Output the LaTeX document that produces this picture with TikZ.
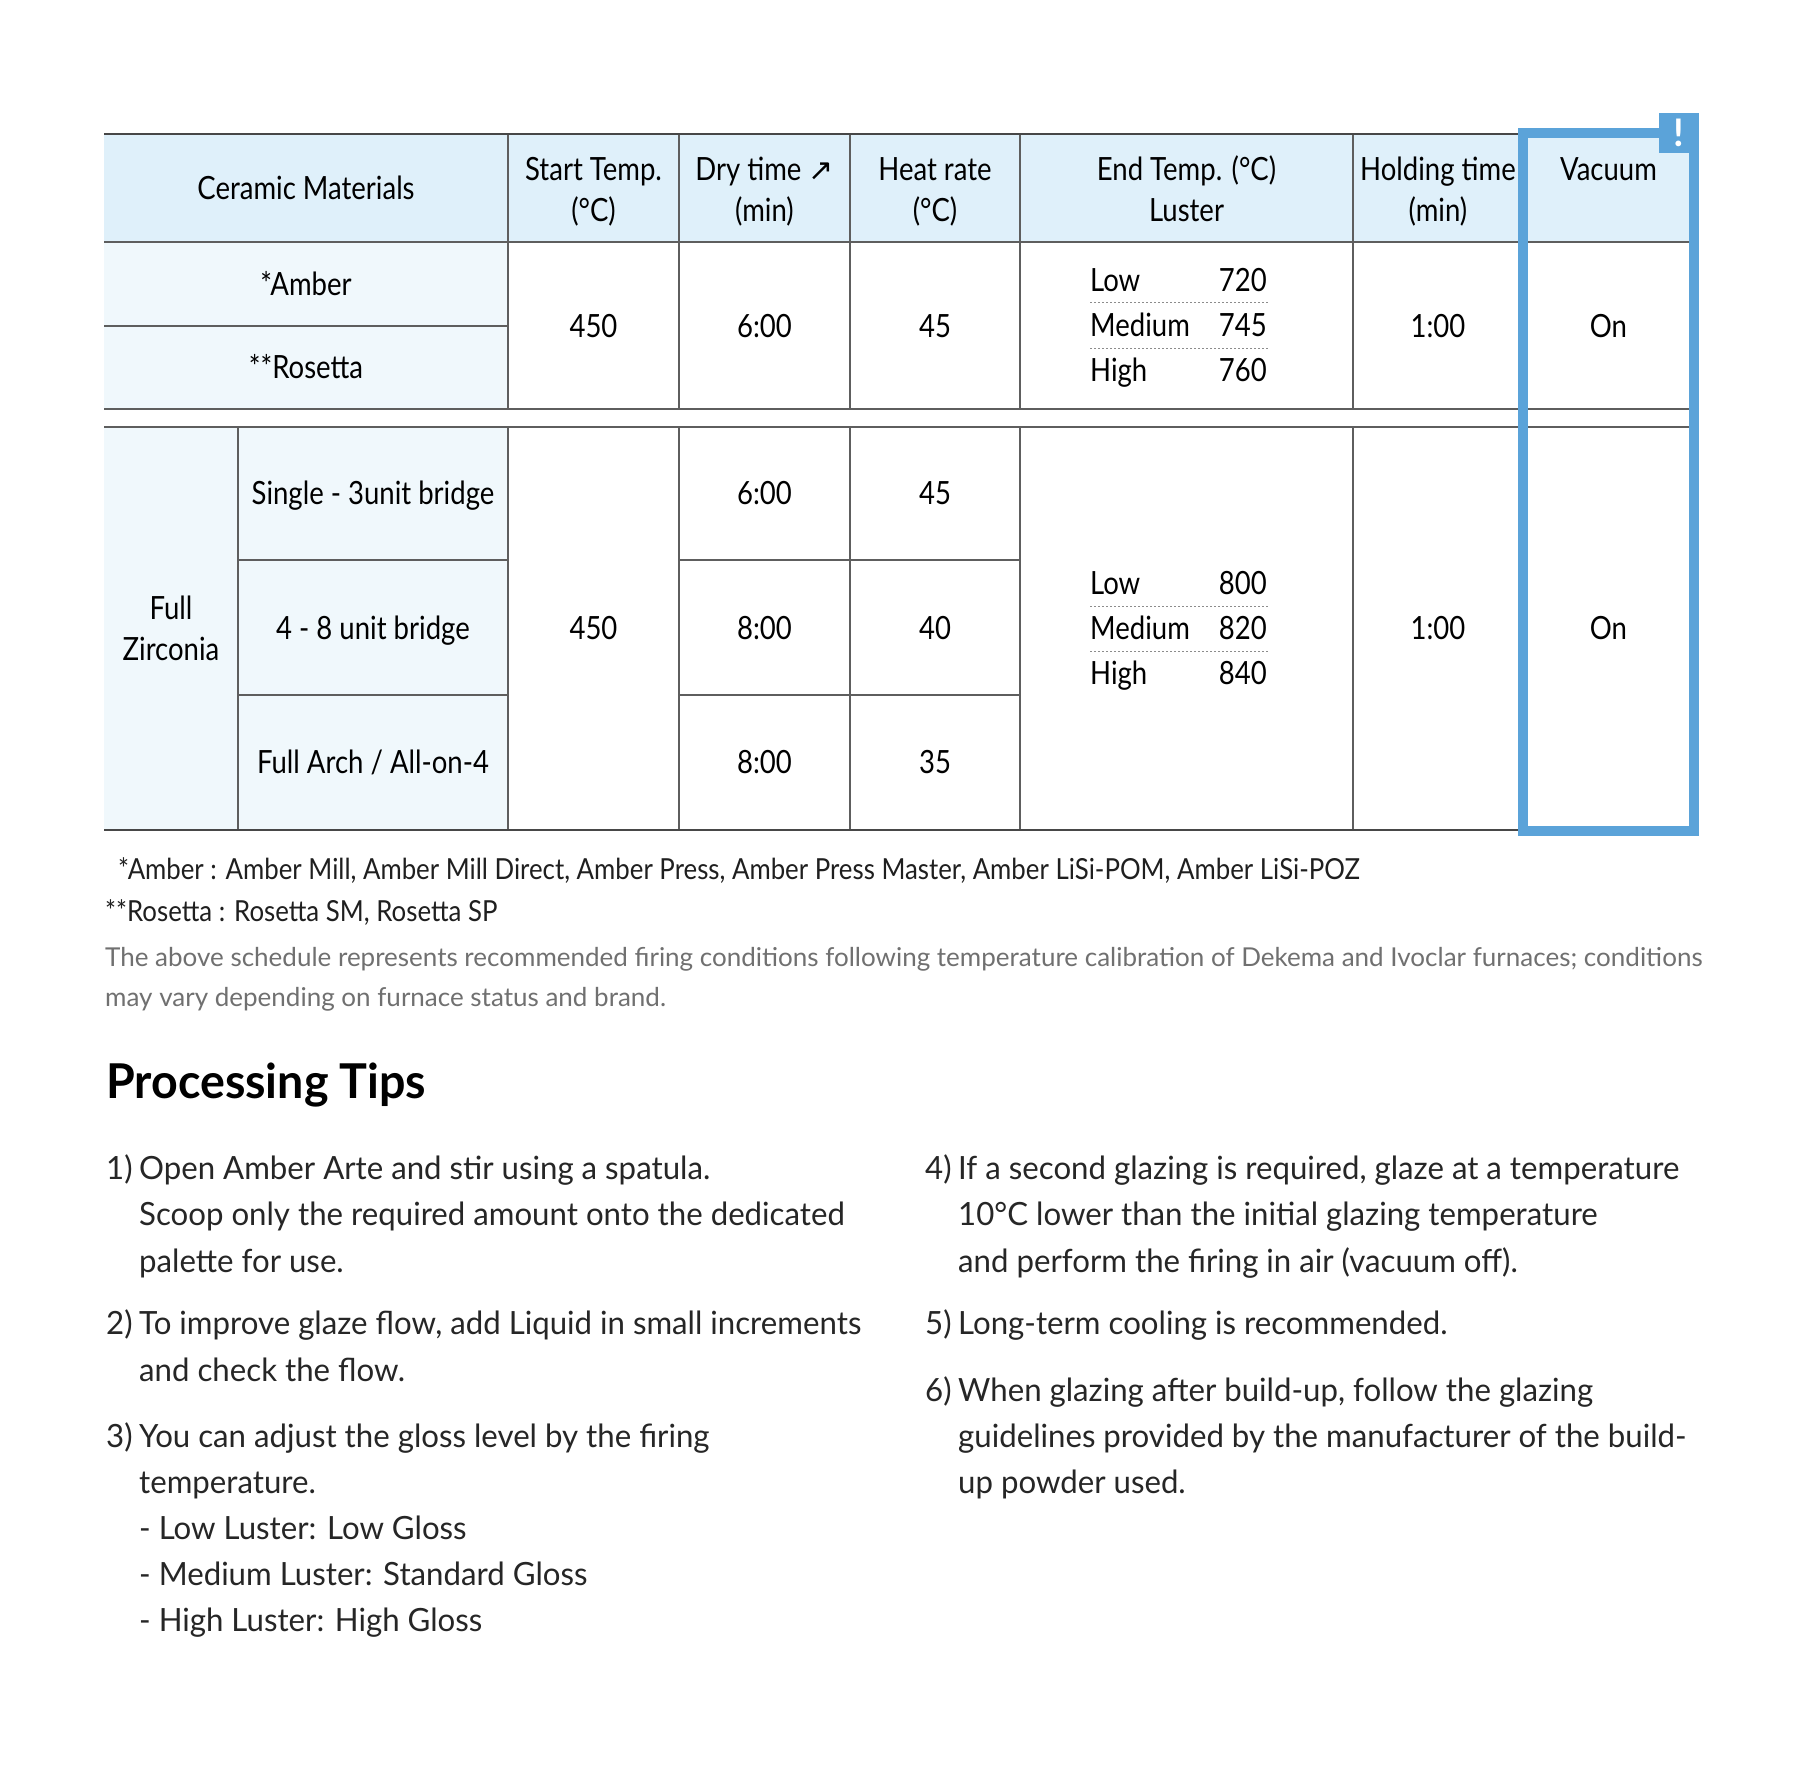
\documentclass[tikz,border=0pt]{standalone}
\usepackage{fontspec}
\setmainfont{Lato}
\newfontfamily\condfont[FakeStretch=0.86]{Lato}
\newfontfamily\notefont[FakeStretch=0.89]{Lato}
\newfontfamily\tipfont[FakeStretch=0.975]{Lato}
\newfontfamily\titlefont[FakeStretch=0.97]{Lato}
\newfontfamily\symfont{DejaVu Sans}
\definecolor{hdrblue}{HTML}{DFF0FA}
\definecolor{matblue}{HTML}{F0F8FC}
\definecolor{vacblue}{HTML}{5BA3D9}
\definecolor{rulegray}{HTML}{5E5E5E}
\definecolor{notegray}{HTML}{707070}

\begin{document}
\begin{tikzpicture}[x=1pt,y=-1pt,
  cell/.style={font=\condfont\fontsize{32}{41}\selectfont, anchor=base, inner sep=0pt},
  note/.style={font=\notefont\fontsize{29}{34}\selectfont, anchor=base west, inner sep=0pt, text=black!88},
  tip/.style={font=\tipfont\fontsize{32}{46}\selectfont, anchor=base west, inner sep=0pt, text=black!85},
  rule/.style={draw=rulegray, line width=1.3pt},
  heavyrule/.style={draw=black!72, line width=2.2pt},
  lusterrule/.style={draw=black!45, line width=1pt, dash pattern=on 2pt off 2pt}]

\fill[white] (0,0) rectangle (1800,1780);
\useasboundingbox (0,0) rectangle (1800,1780);

% fills
\fill[hdrblue] (104,134) rectangle (1694,242);
\fill[matblue] (104,242) rectangle (508,409);
\fill[matblue] (104,427) rectangle (508,830);

% grid lines
\draw[rule] (104,242) -- (1694,242);
\draw[rule] (104,326) -- (508,326);
\draw[rule] (104,409) -- (1694,409);
\draw[rule] (104,427) -- (1694,427);
\draw[rule] (238,560) -- (508,560) (238,695) -- (508,695);
\draw[rule] (679,560) -- (1020,560) (679,695) -- (1020,695);
\foreach \xx in {508,679,850,1020,1353}{
  \draw[rule] (\xx,134) -- (\xx,409);
  \draw[rule] (\xx,427) -- (\xx,830);
}
\draw[rule] (238,427) -- (238,830);
\draw[heavyrule] (104,134) -- (1523,134);
\draw[heavyrule] (104,830) -- (1694,830);

% header
\node[cell] (hmat) at (306,199) {Ceramic Materials};
\node[cell] (hstart) at (593.5,180) {Start Temp.};
\node[cell] (hstartu) at (593.5,221) {(°C)};
\node[cell] (hdry) at (764.5,180) {Dry time {\symfont\fontsize{30}{34}\selectfont ↗}};
\node[cell] (hdryu) at (764.5,221) {(min)};
\node[cell] (hheat) at (935,180) {Heat rate};
\node[cell] (hheatu) at (935,221) {(°C)};
\node[cell] (hend) at (1186.5,180) {End Temp. (°C)};
\node[cell] (hendu) at (1186.5,221) {Luster};
\node[cell] (hhold) at (1438,180) {Holding time};
\node[cell] (hholdu) at (1438,221) {(min)};
\node[cell] (hvac) at (1608.5,180) {Vacuum};

% amber / rosetta
\node[cell] (amber) at (306,295) {*Amber};
\node[cell] (rosetta) at (306,378) {**Rosetta};
\node[cell] (astart) at (593.5,337) {450};
\node[cell] (adry) at (764.5,337) {6:00};
\node[cell] (aheat) at (935,337) {45};
\node[cell] (ahold) at (1438,337) {1:00};
\node[cell] (avac) at (1608.5,337) {On};
\foreach \lab/\val/\yy [count=\i] in {Low/720/291.7, Medium/745/336.7, High/760/381.7}{
  \node[cell,anchor=base west] (alab\i) at (1090,\yy) {\lab};
  \node[cell,anchor=base east] (aval\i) at (1267,\yy) {\val};
}
\draw[lusterrule] (1090,302.7) -- (1268,302.7);
\draw[lusterrule] (1090,348) -- (1268,348);

% full zirconia
\node[cell] (zfull) at (171,619) {Full};
\node[cell] (zzir) at (171,660) {Zirconia};
\node[cell] (zsingle) at (373,504) {Single - 3unit bridge};
\node[cell] (zfour) at (373,639) {4 - 8 unit bridge};
\node[cell] (zarch) at (373,773) {Full Arch / All-on-4};
\node[cell] (zstart) at (593.5,639) {450};
\foreach \dry/\heat/\yy [count=\i] in {6:00/45/504, 8:00/40/639, 8:00/35/773}{
  \node[cell] (zdry\i) at (764.5,\yy) {\dry};
  \node[cell] (zheat\i) at (935,\yy) {\heat};
}
\foreach \lab/\val/\yy [count=\i] in {Low/800/594, Medium/820/639, High/840/684}{
  \node[cell,anchor=base west] (zlab\i) at (1090,\yy) {\lab};
  \node[cell,anchor=base east] (zval\i) at (1267,\yy) {\val};
}
\draw[lusterrule] (1090,606) -- (1268,606);
\draw[lusterrule] (1090,651) -- (1268,651);
\node[cell] (zhold) at (1438,639) {1:00};
\node[cell] (zvac) at (1608.5,639) {On};

% vacuum frame
\draw[vacblue, line width=9.5pt] (1523,133) rectangle (1694,831);
\fill[vacblue] (1659,113) rectangle (1699,153);
\node[font=\bfseries\fontsize{38}{40}\selectfont, text=white, inner sep=0pt] (alert) at (1679,133) {!};

% notes
\node[note] (amnote) at (118,879) {*Amber : Amber Mill, Amber Mill Direct, Amber Press, Amber Press Master, Amber LiSi-POM, Amber LiSi-POZ};
\node[note] (rosnote) at (105,921) {**Rosetta : Rosetta SM, Rosetta SP};
\node[note, font=\fontsize{26}{40}\selectfont, text=notegray] (disc1) at (105,966) {The above schedule represents recommended firing conditions following temperature calibration of Dekema and Ivoclar furnaces; conditions};
\node[note, font=\fontsize{26}{40}\selectfont, text=notegray] (disc2) at (105,1006) {may vary depending on furnace status and brand.};

% processing tips
\node[anchor=base west, inner sep=0pt, font=\titlefont\bfseries\fontsize{48}{54}\selectfont] (tiptitle) at (106,1098) {Processing Tips};
\foreach \yy/\num [count=\i] in {1179/1), 1334.5/2), 1447/3)}
  \node[tip] (lnum\i) at (106,\yy) {\num};
\foreach \yy/\num [count=\i] in {1179/4), 1334.5/5), 1401/6)}
  \node[tip] (rnum\i) at (925,\yy) {\num};
\foreach \yy/\txt [count=\i] in {
  1179/{Open Amber Arte and stir using a spatula.},
  1225.5/{Scoop only the required amount onto the dedicated},
  1272/{palette for use.},
  1334.5/{To improve glaze flow, add Liquid in small increments},
  1381/{and check the flow.},
  1447/{You can adjust the gloss level by the firing},
  1493/{temperature.},
  1539/{- Low Luster: Low Gloss},
  1585/{- Medium Luster: Standard Gloss},
  1631/{- High Luster: High Gloss}}
  \node[tip] (ltip\i) at (139,\yy) {\txt};
\foreach \yy/\txt [count=\i] in {
  1179/{If a second glazing is required, glaze at a temperature},
  1225.5/{10°C lower than the initial glazing temperature},
  1272/{and perform the firing in air (vacuum off).},
  1334.5/{Long-term cooling is recommended.},
  1401/{When glazing after build-up, follow the glazing},
  1447/{guidelines provided by the manufacturer of the build-},
  1493/{up powder used.}}
  \node[tip] (rtip\i) at (958,\yy) {\txt};
\end{tikzpicture}
\end{document}
